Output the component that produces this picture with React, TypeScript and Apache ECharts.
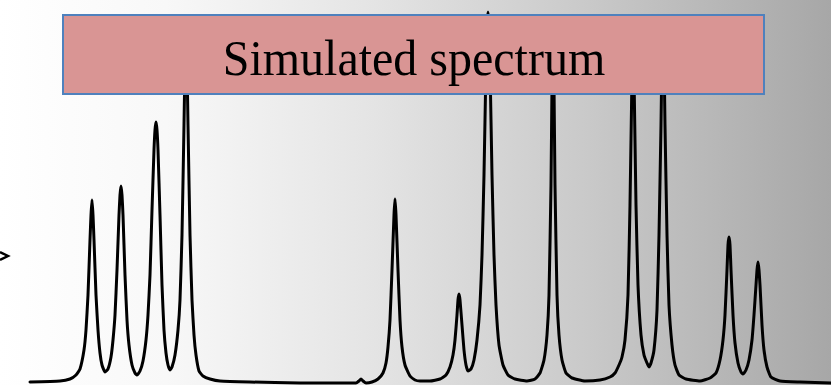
import React, { useEffect, useRef } from "react";
import * as echarts from "echarts";

// Spectrum trace: position (channel) and intensity
const positions: number[] = [
  30, 60, 70, 76, 80, 84, 86, 88, 90, 91, 92, 93, 94, 96, 98, 100, 102, 105,
  108, 111, 113, 115, 117, 119, 120, 121, 122, 123, 125, 127, 129, 132, 135, 137,
  140, 143, 146, 148, 150, 152, 154, 155, 156, 157, 158, 160, 162, 164, 166, 168, 170,
  172, 175, 178, 180, 182, 184, 185, 186, 187, 188, 190, 192, 194, 196, 199, 203, 210, 220,
  250, 300, 350, 356, 359, 361, 363, 366, 372,
  378, 383, 386, 388, 390, 392, 394, 395, 396, 398, 400, 402, 405, 410, 415, 420,
  430, 440, 446, 450, 453, 455, 457, 458, 459, 460, 462, 464, 466, 468,
  471, 474, 477, 480, 482, 484, 486, 487, 488, 489, 490, 492, 494, 496, 499, 503, 508, 515, 527,
  535, 540, 544, 547, 549, 551, 552, 553, 554, 555, 557, 559, 562, 566, 572, 585,
  600, 610, 615, 619, 622, 625, 628, 630, 632, 633, 634, 636, 638, 641, 644, 647, 649,
  651, 654, 657, 659, 661, 662, 663, 664, 665, 667, 669, 672, 675, 679, 686, 700,
  710, 716, 720, 723, 725, 727, 728, 729, 730, 731, 733, 735, 738, 741, 743,
  746, 749, 752, 754, 756, 757, 758, 759, 760, 762, 764, 767, 771, 780, 800, 831,
];
const intensities: number[] = [
  3, 4, 6, 10, 16, 35, 55, 90, 145, 170, 185, 170, 145, 90, 55, 32, 20, 13,
  16, 28, 45, 70, 115, 170, 190, 199, 190, 170, 110, 65, 40, 20, 12, 10,
  14, 24, 45, 70, 110, 175, 235, 255, 263, 255, 235, 170, 100, 55, 32, 20, 15,
  18, 30, 55, 85, 150, 260, 320, 345, 320, 260, 150, 85, 50, 30, 14, 9, 6, 4,
  3, 2, 2, 2, 4, 6, 4, 2, 3,
  6, 12, 22, 38, 65, 115, 170, 186, 170, 115, 65, 38, 20, 9, 5, 4,
  4, 6, 10, 18, 30, 45, 70, 85, 91, 85, 60, 35, 20, 14,
  16, 25, 45, 80, 130, 210, 320, 360, 373, 360, 320, 210, 130, 80, 40, 20, 10, 6, 4,
  6, 12, 25, 50, 90, 200, 300, 355, 300, 200, 90, 50, 25, 12, 7, 4,
  5, 8, 12, 20, 28, 45, 90, 180, 310, 355, 310, 180, 100, 50, 30, 22, 18,
  22, 35, 75, 150, 260, 330, 355, 330, 260, 150, 80, 40, 20, 10, 6, 4,
  7, 12, 25, 45, 70, 115, 140, 148, 140, 115, 70, 42, 22, 13, 11,
  15, 25, 45, 70, 100, 115, 123, 115, 100, 60, 35, 18, 8, 4, 3, 2,
];

const boxLabel = "Simulated spectrum";

export default function App() {
  const ref = useRef<HTMLDivElement>(null);
  useEffect(() => {
    if (!ref.current) return;
    const chart = echarts.init(ref.current, null, { renderer: "svg" });
    const data = positions.map((p, i) => [p, intensities[i]]);
    chart.setOption({
      animation: false,
      backgroundColor: {
        type: "linear",
        x: 0,
        y: 0,
        x2: 1,
        y2: 0,
        colorStops: [
          { offset: 0, color: "#ffffff" },
          { offset: 0.2, color: "#f8f8f8" },
          { offset: 0.45, color: "#e4e4e4" },
          { offset: 0.7, color: "#cacaca" },
          { offset: 1, color: "#a7a7a7" },
        ],
      },
      grid: { left: 0, right: 0, top: 0, bottom: 0 },
      xAxis: { type: "value", min: 0, max: 831, show: false },
      yAxis: { type: "value", min: 0, max: 385, show: false },
      series: [
        {
          type: "line",
          data,
          showSymbol: false,
          smooth: 0.15,
          lineStyle: { color: "#000000", width: 3, join: "round", cap: "round" },
          z: 2,
        },
      ],
      graphic: [
        {
          type: "polyline",
          z: 50,
          shape: { points: [[0, 252], [8, 256], [0, 260]] },
          style: { stroke: "#000", lineWidth: 2.5, fill: "none" },
        },
        {
          type: "rect",
          z: 100,
          shape: { x: 63, y: 15, width: 701, height: 79 },
          style: { fill: "#d99594", stroke: "#4f81bd", lineWidth: 2 },
        },
        {
          type: "text",
          z: 101,
          x: 414,
          y: 58,
          scaleY: 1.06,
          style: {
            text: boxLabel,
            font: "48px 'Liberation Serif', 'Times New Roman', serif",
            fill: "#000",
            align: "center",
            verticalAlign: "middle",
          },
        },
      ],
    });
    return () => chart.dispose();
  }, []);
  return (
    <div
      ref={ref}
      style={{ position: "fixed", left: 0, top: 0, width: 831, height: 385 }}
    />
  );
}
